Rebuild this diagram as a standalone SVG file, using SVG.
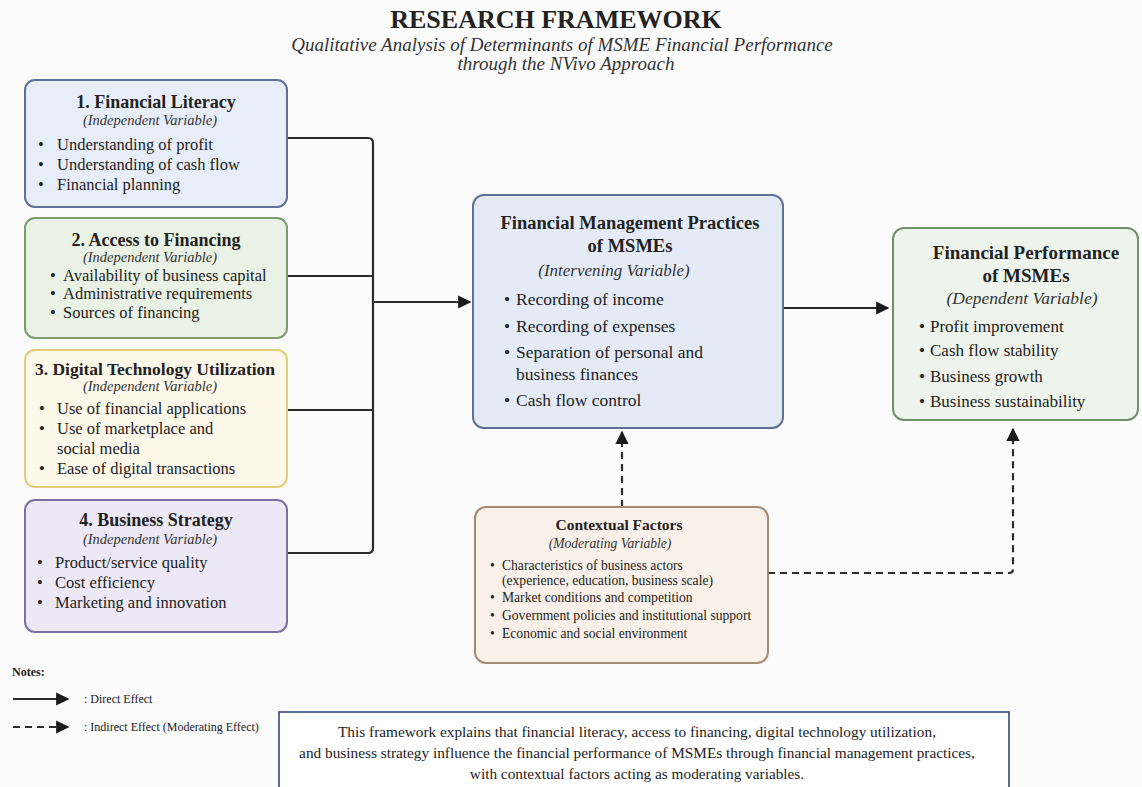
<svg xmlns="http://www.w3.org/2000/svg" width="1142" height="787" viewBox="0 0 1142 787">
<defs>
<style>
text{font-family:"Liberation Serif","Times New Roman",serif;fill:#222}
.t{font-weight:bold;text-anchor:middle}
.i{font-style:italic;text-anchor:middle;fill:#333}
.box{stroke-width:2}
.conn{fill:none;stroke:#2b2b2b;stroke-width:2.2}
.dash{fill:none;stroke:#2b2b2b;stroke-width:2.2;stroke-dasharray:7 5}
</style>
<marker id="ah" viewBox="0 0 10 10" refX="9" refY="5" markerWidth="6" markerHeight="6" orient="auto" markerUnits="strokeWidth">
<path d="M0,0 L10,5 L0,10 z" fill="#1a1a1a"/>
</marker>
</defs>
<rect width="1142" height="787" fill="#fbfbfb"/>

<g id="title">
<text x="556" y="28" class="t" font-size="26">RESEARCH FRAMEWORK</text>
<text x="562" y="51" class="i" font-size="19">Qualitative Analysis of Determinants of MSME Financial Performance</text>
<text x="566" y="70" class="i" font-size="19">through the NVivo Approach</text>
</g>

<g id="connectors">
<path class="conn" d="M287,138 H368 Q373,138 373,143 V548 Q373,553 368,553 H287"/>
<path class="conn" d="M287,276 H373"/>
<path class="conn" d="M287,410 H373"/>
<path class="conn" d="M373,302 H470" marker-end="url(#ah)"/>
<path class="conn" d="M783,308 H888" marker-end="url(#ah)"/>
<path class="dash" d="M622,507 V432" marker-end="url(#ah)"/>
<path class="dash" d="M768,573 H1009 Q1013,573 1013,569 V429" marker-end="url(#ah)"/>
</g>

<g id="node-financial-literacy">
<rect x="25" y="80" width="262" height="127" rx="10" fill="#e8eef9" stroke="#5f7096" class="box"/>
<text x="156" y="108" class="t" font-size="18">1. Financial Literacy</text>
<text x="150" y="125" class="i" font-size="14.5">(Independent Variable)</text>
<g font-size="16.5">
<text x="38" y="150">•</text><text x="57" y="150">Understanding of profit</text>
<text x="38" y="170">•</text><text x="57" y="170">Understanding of cash flow</text>
<text x="38" y="190">•</text><text x="57" y="190">Financial planning</text>
</g>
</g>

<g id="node-access-financing">
<rect x="25" y="218" width="262" height="120" rx="10" fill="#eaf1e5" stroke="#7f9c70" class="box"/>
<text x="156" y="246" class="t" font-size="18">2. Access to Financing</text>
<text x="150" y="262" class="i" font-size="14.5">(Independent Variable)</text>
<g font-size="16.5">
<text x="50" y="281">•</text><text x="63" y="281">Availability of business capital</text>
<text x="50" y="299">•</text><text x="63" y="299">Administrative requirements</text>
<text x="50" y="318">•</text><text x="63" y="318">Sources of financing</text>
</g>
</g>

<g id="node-digital-technology">
<rect x="25" y="350" width="262" height="137" rx="10" fill="#fdf8ea" stroke="#e3cd7a" class="box"/>
<text x="155" y="375" class="t" font-size="17.5">3. Digital Technology Utilization</text>
<text x="150" y="391" class="i" font-size="14.5">(Independent Variable)</text>
<g font-size="16.5">
<text x="39" y="414">•</text><text x="57" y="414">Use of financial applications</text>
<text x="39" y="434">•</text><text x="57" y="434">Use of marketplace and</text>
<text x="57" y="454">social media</text>
<text x="39" y="474">•</text><text x="57" y="474">Ease of digital transactions</text>
</g>
</g>

<g id="node-business-strategy">
<rect x="25" y="500" width="262" height="132" rx="10" fill="#ece8f6" stroke="#7b70a3" class="box"/>
<text x="156" y="526" class="t" font-size="18">4. Business Strategy</text>
<text x="150" y="544" class="i" font-size="14.5">(Independent Variable)</text>
<g font-size="16.5">
<text x="37" y="568">•</text><text x="55" y="568">Product/service quality</text>
<text x="37" y="588">•</text><text x="55" y="588">Cost efficiency</text>
<text x="37" y="608">•</text><text x="55" y="608">Marketing and innovation</text>
</g>
</g>

<g id="node-financial-management">
<rect x="473" y="195" width="310" height="233" rx="11" fill="#e4ebf7" stroke="#5f7096" class="box"/>
<text x="630" y="229" class="t" font-size="18.5">Financial Management Practices</text>
<text x="630" y="252" class="t" font-size="18.5">of MSMEs</text>
<text x="614" y="276" class="i" font-size="17">(Intervening Variable)</text>
<g font-size="17.5">
<text x="504" y="305">•</text><text x="516" y="305">Recording of income</text>
<text x="504" y="332">•</text><text x="516" y="332">Recording of expenses</text>
<text x="504" y="358">•</text><text x="516" y="358">Separation of personal and</text>
<text x="516" y="380">business finances</text>
<text x="504" y="406">•</text><text x="516" y="406">Cash flow control</text>
</g>
</g>

<g id="node-financial-performance">
<rect x="893" y="228" width="245" height="192" rx="11" fill="#eef4ec" stroke="#6f9068" class="box"/>
<text x="1026" y="259" class="t" font-size="19">Financial Performance</text>
<text x="1026" y="282" class="t" font-size="19">of MSMEs</text>
<text x="1022" y="304" class="i" font-size="17.5">(Dependent Variable)</text>
<g font-size="17">
<text x="919" y="332">•</text><text x="930" y="332">Profit improvement</text>
<text x="919" y="356">•</text><text x="930" y="356">Cash flow stability</text>
<text x="919" y="382">•</text><text x="930" y="382">Business growth</text>
<text x="919" y="407">•</text><text x="930" y="407">Business sustainability</text>
</g>
</g>

<g id="node-contextual-factors">
<rect x="475" y="507" width="293" height="156" rx="11" fill="#f9f1e9" stroke="#a38a72" class="box"/>
<text x="619" y="530" class="t" font-size="15.5">Contextual Factors</text>
<text x="610" y="548" class="i" font-size="13.6">(Moderating Variable)</text>
<g font-size="13.6">
<text x="490" y="570">•</text><text x="502" y="570">Characteristics of business actors</text>
<text x="502" y="585">(experience, education, business scale)</text>
<text x="490" y="602">•</text><text x="502" y="602">Market conditions and competition</text>
<text x="490" y="620">•</text><text x="502" y="620">Government policies and institutional support</text>
<text x="490" y="638">•</text><text x="502" y="638">Economic and social environment</text>
</g>
</g>

<g id="legend">
<text x="12" y="676" font-size="12" font-weight="bold">Notes:</text>
<path class="conn" d="M13,699 H68" marker-end="url(#ah)"/>
<text x="84" y="703" font-size="12">: Direct Effect</text>
<path class="dash" d="M13,727 H68" marker-end="url(#ah)"/>
<text x="84" y="731" font-size="12">: Indirect Effect (Moderating Effect)</text>
</g>

<g id="summary">
<rect x="279" y="712" width="730" height="82" fill="#ffffff" stroke="#4b5b8a" stroke-width="1.8"/>
<text x="637" y="737" font-size="15.3" text-anchor="middle">This framework explains that financial literacy, access to financing, digital technology utilization,</text>
<text x="637" y="758" font-size="15.3" text-anchor="middle">and business strategy influence the financial performance of MSMEs through financial management practices,</text>
<text x="637" y="779" font-size="15.3" text-anchor="middle">with contextual factors acting as moderating variables.</text>
</g>
</svg>
